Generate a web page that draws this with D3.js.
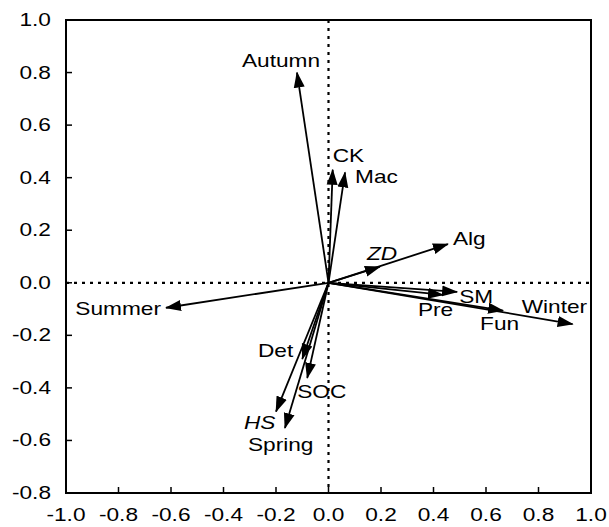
<!DOCTYPE html>
<html>
<head>
<meta charset="utf-8">
<script src="https://cdn.jsdelivr.net/npm/d3@7"></script>
<style>
  body { margin: 0; background: #fff; }
  text { font-family: "Liberation Sans", Arial, sans-serif; font-size: 18px; fill: #000; }
</style>
</head>
<body>
<div id="chart"></div>
<script>
// vector names and loadings
const names   = ["Autumn", "CK", "Mac", "Alg", "ZD", "SM", "Pre", "Fun", "Winter", "Summer", "Det", "SOC", "HS", "Spring"];
const axis1   = [-0.12, 0.016, 0.063, 0.455, 0.196, 0.49, 0.436, 0.665, 0.93, -0.619, -0.10, -0.081, -0.20, -0.166];
const axis2   = [0.80, 0.43, 0.42, 0.147, 0.061, -0.035, -0.046, -0.106, -0.157, -0.095, -0.29, -0.362, -0.49, -0.553];
const italics = ["ZD", "HS"];

const xTicks = [-1.0, -0.8, -0.6, -0.4, -0.2, 0.0, 0.2, 0.4, 0.6, 0.8, 1.0];
const yTicks = [-0.8, -0.6, -0.4, -0.2, 0.0, 0.2, 0.4, 0.6, 0.8, 1.0];

// label placement relative to arrow tip (px), anchor
const labelPos = {
    Autumn: [-16, -6, "middle"],
    CK:     [0, -8, "start"],
    Mac:    [10, 11, "start"],
    Alg:    [5, 1, "start"],
    ZD:     [-13, -7, "start"],
    SM:     [2, 11, "start"],
    Pre:    [-25, 21, "start"],
    Fun:    [-23, 19, "start"],
    Winter: [-51, -11, "start"],
    Summer: [-5, 7, "end"],
    Det:    [-9, -2, "end"],
    SOC:    [-10, 20, "start"],
    HS:     [-32, 17, "start"],
    Spring: [-37, 23, "start"]
};

const width = 609, height = 527;
const margin = { top: 20, right: 18, bottom: 34, left: 66 };
const stretch = 1.26; // text in the original is wide

const svg = d3.select("#chart").append("svg")
    .attr("width", width)
    .attr("height", height);

const x = d3.scaleLinear().domain([-1, 1]).range([margin.left, width - margin.right]);
const y = d3.scaleLinear().domain([-0.8, 1.0]).range([height - margin.bottom, margin.top]);

function putText(sel, px, py, anchor) {
    return sel.attr("transform", `translate(${px},${py}) scale(${stretch},1)`)
        .attr("text-anchor", anchor);
}

svg.append("defs").append("marker")
    .attr("id", "head")
    .attr("markerUnits", "userSpaceOnUse")
    .attr("viewBox", "0 -6 16 12")
    .attr("refX", 15)
    .attr("refY", 0)
    .attr("markerWidth", 16)
    .attr("markerHeight", 12)
    .attr("orient", "auto")
    .append("path")
    .attr("d", "M0,-5.5L16,0L0,5.5Z")
    .attr("fill", "#000");

// zero lines
svg.append("line")
    .attr("x1", x(0)).attr("x2", x(0))
    .attr("y1", y(1.0)).attr("y2", y(-0.8))
    .attr("stroke", "#000").attr("stroke-width", 2.2)
    .attr("stroke-dasharray", "3,5");
svg.append("line")
    .attr("x1", x(-1)).attr("x2", x(1))
    .attr("y1", y(0)).attr("y2", y(0))
    .attr("stroke", "#000").attr("stroke-width", 2.2)
    .attr("stroke-dasharray", "3,5");

// ticks (inward)
svg.selectAll(".xt").data(xTicks).enter().append("line")
    .attr("x1", d => x(d)).attr("x2", d => x(d))
    .attr("y1", y(-0.8)).attr("y2", y(-0.8) - 6)
    .attr("stroke", "#000").attr("stroke-width", 1.5);
svg.selectAll(".yt").data(yTicks).enter().append("line")
    .attr("x1", x(-1)).attr("x2", x(-1) + 6)
    .attr("y1", d => y(d)).attr("y2", d => y(d))
    .attr("stroke", "#000").attr("stroke-width", 1.5);

svg.selectAll(".xl").data(xTicks).enter().append("text")
    .each(function (d) { putText(d3.select(this), x(d), y(-0.8) + 28, "middle"); })
    .text(d => d.toFixed(1));
svg.selectAll(".yl").data(yTicks).enter().append("text")
    .each(function (d) { putText(d3.select(this), x(-1) - 15, y(d) + 6, "end"); })
    .text(d => d.toFixed(1));

// frame
svg.append("rect")
    .attr("x", x(-1)).attr("y", y(1.0))
    .attr("width", x(1) - x(-1)).attr("height", y(-0.8) - y(1.0))
    .attr("fill", "none").attr("stroke", "#000").attr("stroke-width", 2);

const vectors = names.map((n, i) => ({ name: n, a: axis1[i], b: axis2[i] }));

svg.selectAll(".vec").data(vectors).enter().append("line")
    .attr("x1", x(0)).attr("y1", y(0))
    .attr("x2", d => x(d.a)).attr("y2", d => y(d.b))
    .attr("stroke", "#000").attr("stroke-width", 1.8)
    .attr("marker-end", "url(#head)");

svg.selectAll(".lab").data(vectors).enter().append("text")
    .each(function (d) {
        const p = labelPos[d.name];
        putText(d3.select(this), x(d.a) + p[0], y(d.b) + p[1], p[2]);
    })
    .style("font-style", d => italics.includes(d.name) ? "italic" : "normal")
    .text(d => d.name);
</script>
</body>
</html>
